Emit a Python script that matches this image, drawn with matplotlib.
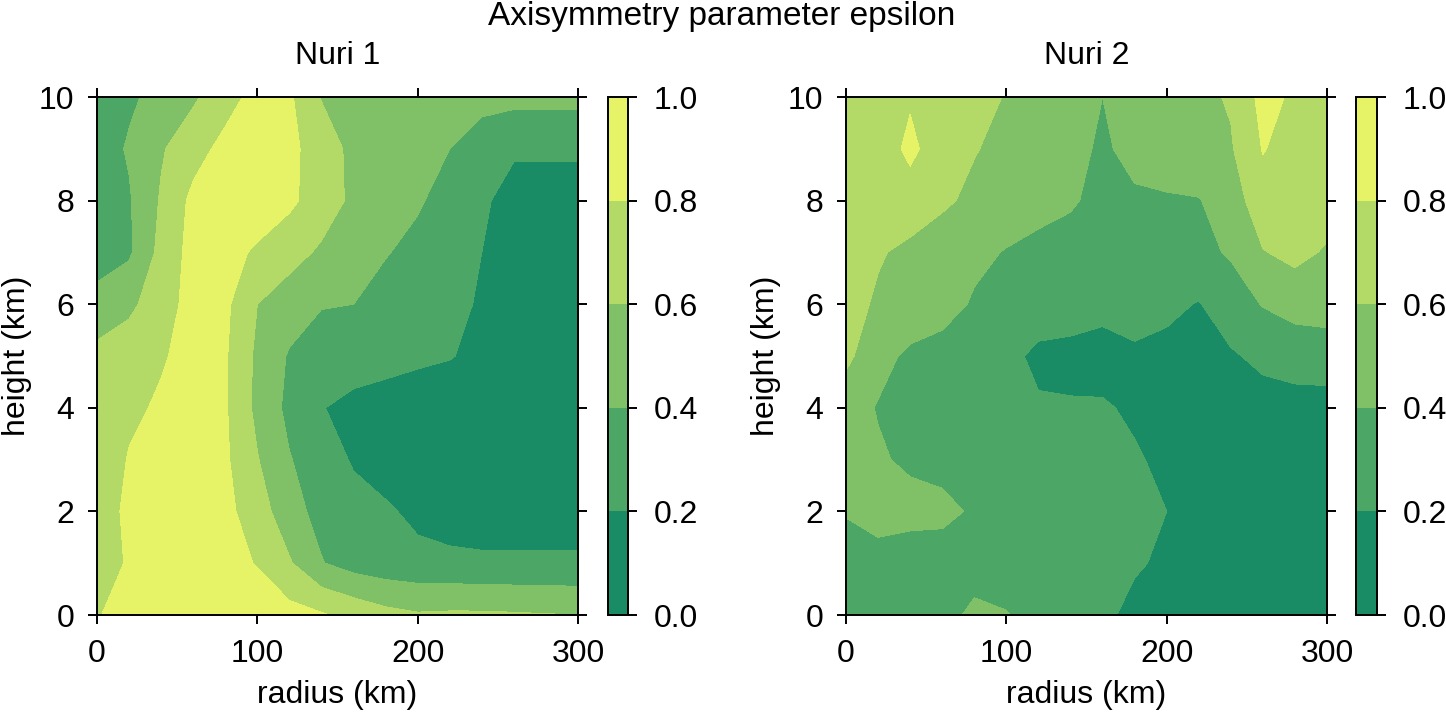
import numpy as np
import matplotlib.pyplot as plt

# grid: radius every 20 km, height every 1 km (rows listed from top, 10 km, down to 0 km)
radius = np.arange(0, 301, 20)
height = np.arange(10, -1, -1)

nuri1 = np.array([
    [0.30, 0.37, 0.46, 0.57, 0.72, 0.87, 0.83, 0.59, 0.53, 0.50, 0.48, 0.46, 0.45, 0.45, 0.45, 0.45],
    [0.30, 0.42, 0.58, 0.72, 0.86, 0.90, 0.85, 0.70, 0.55, 0.50, 0.45, 0.40, 0.32, 0.24, 0.24, 0.24],
    [0.30, 0.38, 0.62, 0.85, 0.92, 0.92, 0.84, 0.70, 0.56, 0.50, 0.42, 0.33, 0.25, 0.08, 0.08, 0.08],
    [0.32, 0.37, 0.66, 0.87, 0.87, 0.77, 0.67, 0.57, 0.50, 0.41, 0.35, 0.29, 0.20, 0.10, 0.08, 0.08],
    [0.46, 0.56, 0.70, 0.88, 0.84, 0.60, 0.50, 0.41, 0.40, 0.33, 0.29, 0.25, 0.18, 0.10, 0.08, 0.08],
    [0.66, 0.70, 0.77, 0.90, 0.82, 0.56, 0.38, 0.31, 0.32, 0.28, 0.24, 0.21, 0.15, 0.10, 0.08, 0.08],
    [0.68, 0.74, 0.84, 0.92, 0.82, 0.55, 0.35, 0.21, 0.13, 0.10, 0.08, 0.08, 0.08, 0.08, 0.08, 0.08],
    [0.59, 0.82, 0.90, 0.92, 0.83, 0.61, 0.41, 0.30, 0.18, 0.10, 0.08, 0.08, 0.08, 0.08, 0.08, 0.08],
    [0.70, 0.84, 0.90, 0.92, 0.85, 0.70, 0.47, 0.34, 0.27, 0.23, 0.15, 0.10, 0.08, 0.08, 0.08, 0.08],
    [0.70, 0.82, 0.88, 0.90, 0.86, 0.79, 0.62, 0.41, 0.32, 0.28, 0.26, 0.25, 0.24, 0.24, 0.24, 0.24],
    [0.79, 0.86, 0.90, 0.92, 0.92, 0.90, 0.87, 0.82, 0.74, 0.66, 0.62, 0.63, 0.63, 0.62, 0.61, 0.60],
])

nuri2 = np.array([
    [0.70, 0.72, 0.78, 0.72, 0.66, 0.59, 0.53, 0.47, 0.40, 0.47, 0.52, 0.55, 0.62, 0.86, 0.77, 0.72],
    [0.68, 0.70, 0.84, 0.70, 0.61, 0.55, 0.50, 0.46, 0.37, 0.46, 0.50, 0.54, 0.58, 0.81, 0.72, 0.72],
    [0.68, 0.67, 0.72, 0.63, 0.56, 0.50, 0.46, 0.42, 0.35, 0.37, 0.38, 0.39, 0.50, 0.72, 0.70, 0.68],
    [0.70, 0.62, 0.55, 0.50, 0.44, 0.39, 0.35, 0.33, 0.30, 0.30, 0.32, 0.35, 0.42, 0.59, 0.65, 0.58],
    [0.68, 0.57, 0.50, 0.47, 0.38, 0.33, 0.30, 0.28, 0.26, 0.25, 0.24, 0.19, 0.30, 0.41, 0.48, 0.50],
    [0.65, 0.45, 0.37, 0.33, 0.30, 0.25, 0.16, 0.15, 0.12, 0.18, 0.15, 0.12, 0.18, 0.24, 0.27, 0.28],
    [0.47, 0.39, 0.35, 0.32, 0.30, 0.28, 0.22, 0.215, 0.22, 0.17, 0.14, 0.12, 0.12, 0.13, 0.14, 0.14],
    [0.50, 0.42, 0.37, 0.35, 0.33, 0.31, 0.30, 0.28, 0.25, 0.22, 0.16, 0.12, 0.10, 0.10, 0.10, 0.10],
    [0.41, 0.45, 0.46, 0.44, 0.38, 0.34, 0.32, 0.30, 0.28, 0.25, 0.20, 0.12, 0.10, 0.10, 0.10, 0.10],
    [0.33, 0.35, 0.30, 0.32, 0.34, 0.30, 0.28, 0.27, 0.25, 0.22, 0.17, 0.12, 0.10, 0.10, 0.10, 0.10],
    [0.32, 0.30, 0.32, 0.35, 0.43, 0.41, 0.33, 0.28, 0.24, 0.15, 0.12, 0.10, 0.10, 0.10, 0.10, 0.10],
])

titles = ["Nuri 1", "Nuri 2"]
levels = np.linspace(0, 1, 6)
cbar_ticks = [0.0, 0.2, 0.4, 0.6, 0.8, 1.0]

plt.rcParams['font.family'] = ['Liberation Sans', 'DejaVu Sans']
plt.rcParams['font.size'] = 23

fig = plt.figure(figsize=(14.46, 7.12), dpi=100)

ax_pos = [[0.0671, 0.1362, 0.3326, 0.7275], [0.5851, 0.1362, 0.3326, 0.7275]]
cax_pos = [[0.4205, 0.1362, 0.0140, 0.7275], [0.9378, 0.1362, 0.0145, 0.7275]]

for title, data, p, cp in zip(titles, [nuri1, nuri2], ax_pos, cax_pos):
    ax = fig.add_axes(p)
    cf = ax.contourf(radius, height, data, levels=levels, cmap='summer')
    ax.set_xlim(0, 300)
    ax.set_ylim(0, 10)
    ax.set_xticks([0, 100, 200, 300])
    ax.set_yticks([0, 2, 4, 6, 8, 10])
    ax.tick_params(direction='out', top=True, right=True, length=6.5, width=1.4)
    ax.tick_params(axis='x', pad=11)
    ax.tick_params(axis='y', pad=10)
    for s in ax.spines.values():
        s.set_linewidth(1.4)
    ax.set_xlabel("radius (km)", labelpad=8)
    ax.set_ylabel("height (km)", labelpad=5)
    ax.set_title(title, pad=24, fontsize=23)

    cax = fig.add_axes(cp)
    cb = fig.colorbar(cf, cax=cax, ticks=cbar_ticks, format='%.1f')
    cb.outline.set_linewidth(1.4)
    cax.tick_params(direction='out', length=6.5, width=1.4, pad=12)

fig.suptitle("Axisymmetry parameter epsilon", x=0.499, y=1 - 25 / 712, va='baseline', fontsize=24)
fig.savefig("out.png", dpi=100)
